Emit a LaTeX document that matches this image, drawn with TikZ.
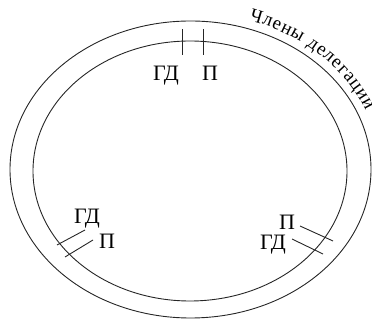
\documentclass[tikz,border=0pt]{standalone}
\usepackage{fontspec}
\setmainfont{Liberation Serif}
\usetikzlibrary{decorations.text,calc}
\begin{document}
\begin{tikzpicture}[x=1pt,y=1pt,
  ring/.style={draw=black!85,line width=0.9pt},
  tick/.style={draw=black!85,line width=0.9pt},
  lab/.style={inner sep=0pt,anchor=base,font=\fontsize{22}{26}\selectfont}]
\useasboundingbox (0,0) rectangle (372,320);
\coordinate (co) at (190.5,150.5);
\coordinate (ci) at (190,149);
\draw[ring] (co) ellipse[x radius=180.5, y radius=148.5];
\draw[ring] (ci) ellipse[x radius=157, y radius=130];
% curved caption
\path[decorate,decoration={text along path,text align=fit to path,
  text={|\fontsize{19}{22}\selectfont|Члены делегации}}]
  ($(co)+(72:189 and 157)$) arc[start angle=72,end angle=22,x radius=189,y radius=157];
% top ticks
\coordinate (t1a) at (182,291); \coordinate (t1b) at (182,265);
\coordinate (t2a) at (203,291); \coordinate (t2b) at (203,265);
\draw[tick] (t1a) -- (t1b);
\draw[tick] (t2a) -- (t2b);
\node[lab] (gdT) at (166,239) {ГД};
\node[lab] (pT) at (210,239) {П};
% bottom-left ticks
\coordinate (l1a) at (57,75); \coordinate (l1b) at (85,90);
\coordinate (l2a) at (65,63); \coordinate (l2b) at (93,80);
\draw[tick] (l1a) -- (l1b);
\draw[tick] (l2a) -- (l2b);
\node[lab] (gdL) at (87,96) {ГД};
\node[lab] (pL) at (107,71) {П};
% bottom-right ticks
\coordinate (r1a) at (300,94); \coordinate (r1b) at (333,79);
\coordinate (r2a) at (292,81); \coordinate (r2b) at (323,66);
\draw[tick] (r1a) -- (r1b);
\draw[tick] (r2a) -- (r2b);
\node[lab] (pR) at (287,90) {П};
\node[lab] (gdR) at (273,70) {ГД};
\end{tikzpicture}
\end{document}
